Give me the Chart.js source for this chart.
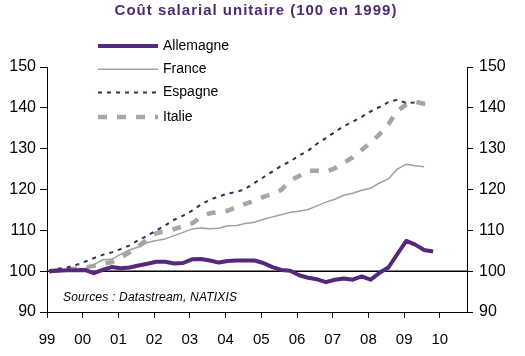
<!DOCTYPE html>
<html>
<head>
<meta charset="utf-8">
<script src="https://cdn.jsdelivr.net/npm/chart.js@4.4.1/dist/chart.umd.min.js"></script>
<style>
  html,body{margin:0;padding:0;background:#fff;}
  #wrap{width:525px;height:356px;position:relative;}
</style>
</head>
<body>
<div id="wrap"><canvas id="c" width="525" height="356"></canvas></div>
<script>
// ---- Data (quarterly, starting 1999 Q1) ----
const startYear = 1999;
const xTickLabels = ['99','00','01','02','03','04','05','06','07','08','09','10'];
const seriesNames = ['Allemagne','France','Espagne','Italie'];
const allemagne = [100.0,100.1,100.2,100.2,100.3,99.5,100.3,101.0,100.7,100.9,101.4,101.8,
  102.3,102.3,101.9,102.0,102.9,103.0,102.6,102.1,102.5,102.6,102.6,102.6,
  102.0,101.0,100.3,100.1,99.0,98.4,98.0,97.3,97.9,98.2,97.9,98.7,
  97.9,99.6,100.9,104.2,107.4,106.5,105.2,104.8];
const france = [100.0,100.1,100.2,100.3,100.6,101.6,102.8,102.9,104.1,105.2,105.9,107.0,
  107.5,107.9,108.7,109.5,110.3,110.6,110.4,110.5,111.1,111.2,111.7,112.0,
  112.7,113.3,113.8,114.4,114.7,115.1,116.0,116.9,117.6,118.6,119.1,119.8,
  120.3,121.6,122.6,125.0,126.2,125.8,125.6];
const espagne = [100.0,100.6,100.9,101.5,102.3,103.2,104.0,104.6,105.4,106.3,107.6,108.7,
  110.0,111.2,112.6,113.6,114.8,116.3,117.5,118.3,119.0,119.4,120.2,121.6,
  123.0,124.4,125.8,126.9,128.3,129.5,131.2,132.6,134.1,135.5,136.6,137.8,
  139.1,140.2,141.4,142.0,141.2,141.3];
const italie = [100.0,100.3,100.5,100.6,100.9,101.3,101.8,102.2,103.3,104.6,106.1,107.8,
  109.3,109.8,110.3,111.0,111.7,113.2,114.2,114.5,114.8,115.7,116.5,117.3,
  118.2,118.9,119.9,122.2,123.3,124.6,124.6,124.4,125.2,126.5,127.9,129.7,
  131.5,133.5,136.0,139.3,140.8,141.5,141.0,140.7];
const yTicks = [90,100,110,120,130,140,150];

function toPoints(arr){ return arr.map((v,i)=>({x: startYear + i/4 + 0.06, y: v})); }

const styles = [
  {color:'#55287A', width:4, dash:[]},
  {color:'#A0A0A0', width:1.5, dash:[]},
  {color:'#3E2A60', width:2, dash:[4,5]},
  {color:'#A6A6A6', width:4.5, dash:[9,10]}
];
const values = [allemagne, france, espagne, italie];

const datasets = values.map((arr,k)=>({
  label: seriesNames[k],
  data: toPoints(arr),
  borderColor: styles[k].color,
  borderWidth: styles[k].width,
  borderDash: styles[k].dash,
  borderCapStyle: 'butt',
  borderJoinStyle: 'round',
  pointRadius: 0,
  tension: 0,
  fill: false,
  order: k
}));

const deco = {
  id:'deco',
  beforeDatasetsDraw(chart){
    const ctx = chart.ctx, a = chart.chartArea, y = chart.scales.y.getPixelForValue(100);
    ctx.save();
    ctx.strokeStyle = '#000'; ctx.lineWidth = 1.5;
    ctx.beginPath(); ctx.moveTo(a.left, y); ctx.lineTo(a.right, y); ctx.stroke();
    ctx.restore();
  },
  afterDraw(chart){
    const ctx = chart.ctx;
    ctx.save();
    // title
    ctx.fillStyle = '#4E2A70';
    ctx.font = 'bold 15px "Liberation Sans", Arial, sans-serif';
    try { ctx.letterSpacing = '1px'; } catch(e){}
    ctx.textAlign = 'center'; ctx.textBaseline = 'middle';
    ctx.fillText('Coût salarial unitaire (100 en 1999)', 256, 11);
    try { ctx.letterSpacing = '0px'; } catch(e){}
    // legend
    const rows = [46, 69.3, 92.5, 117];
    ctx.textAlign = 'left';
    ctx.font = '14px "Liberation Sans", Arial, sans-serif';
    seriesNames.forEach((n,k)=>{
      const s = styles[k];
      ctx.strokeStyle = s.color; ctx.lineWidth = s.width; ctx.setLineDash(s.dash); ctx.lineCap='butt';
      ctx.beginPath(); ctx.moveTo(98, rows[k]); ctx.lineTo(158, rows[k]); ctx.stroke();
      ctx.setLineDash([]);
      ctx.fillStyle = '#000';
      ctx.fillText(n, 163, rows[k]);
    });
    // source
    ctx.font = 'italic 12px "Liberation Sans", Arial, sans-serif';
    try { ctx.letterSpacing = '0.2px'; } catch(e){}
    ctx.fillStyle = '#000';
    ctx.fillText('Sources : Datastream, NATIXIS', 63, 298);
    ctx.restore();
  }
};

const tickFont = {family:'"Liberation Sans", Arial, sans-serif', size:15};

new Chart(document.getElementById('c'), {
  type:'line',
  data:{datasets},
  options:{
    responsive:false, animation:false,
    layout:{padding:{top:67,left:0,right:0,bottom:0}},
    plugins:{legend:{display:false}, title:{display:false}, tooltip:{enabled:false}},
    scales:{
      x:{
        type:'linear', min:1999, max:2010.76,
        border:{display:true,color:'#000',width:1},
        grid:{display:true,drawOnChartArea:false,drawTicks:true,tickLength:6,color:'#000'},
        afterBuildTicks(s){ s.ticks = xTickLabels.map((l,i)=>({value:startYear+i})); },
        ticks:{autoSkip:false,maxRotation:0,color:'#000',font:tickFont,padding:13,
          callback:(v)=>xTickLabels[Math.round(v-startYear)]},
        afterFit(s){ s.height = 44; }
      },
      y:{
        position:'left', min:90, max:150,
        border:{display:true,color:'#000',width:1},
        grid:{display:true,drawOnChartArea:false,drawTicks:true,tickLength:7,color:'#000'},
        afterBuildTicks(s){ s.ticks = yTicks.map(v=>({value:v})); },
        ticks:{color:'#000',font:{family:tickFont.family,size:16},padding:4},
        afterFit(s){ s.width = 47; }
      },
      y2:{
        position:'right', min:90, max:150,
        border:{display:true,color:'#000',width:1},
        grid:{display:true,drawOnChartArea:false,drawTicks:true,tickLength:6,color:'#000'},
        afterBuildTicks(s){ s.ticks = yTicks.map(v=>({value:v})); },
        ticks:{color:'#000',font:{family:tickFont.family,size:16},padding:6},
        afterFit(s){ s.width = 58; }
      }
    }
  },
  plugins:[deco]
});
</script>
</body>
</html>
